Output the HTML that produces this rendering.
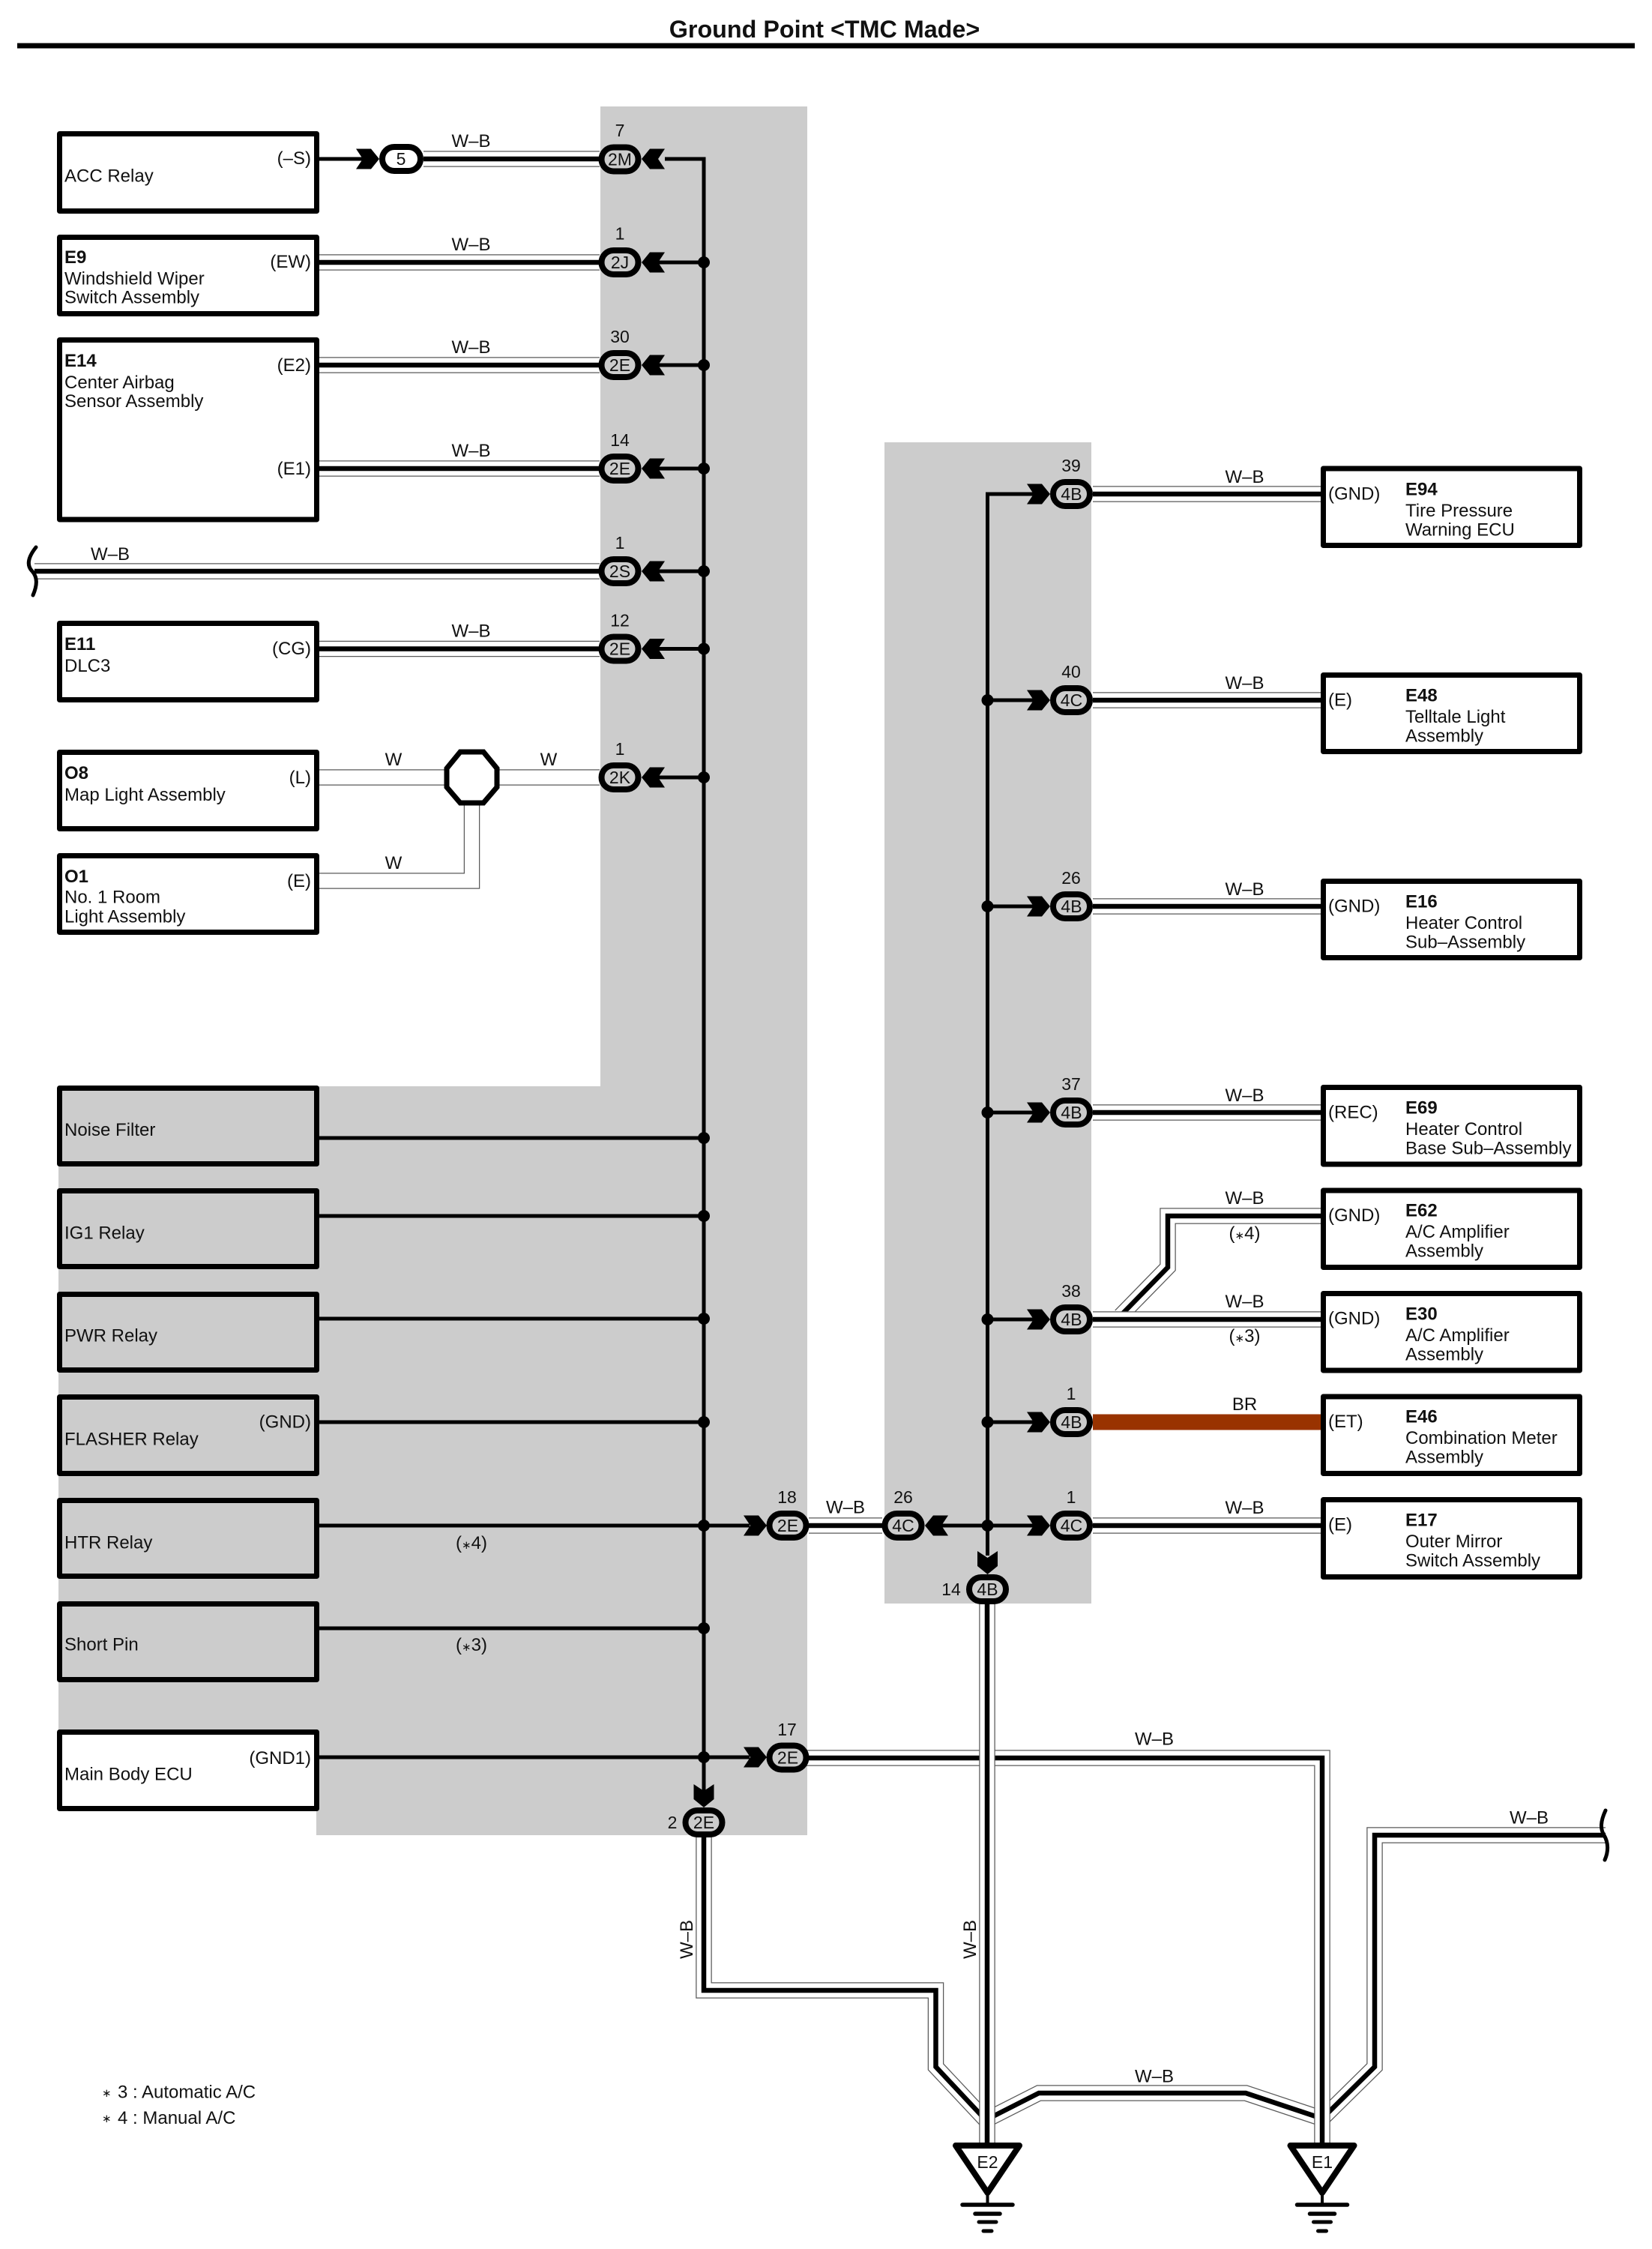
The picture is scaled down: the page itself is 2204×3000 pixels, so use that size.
<!DOCTYPE html>
<html><head><meta charset="utf-8"><style>
html,body{margin:0;padding:0;background:#fff}
svg{display:block}
text{font-family:"Liberation Sans",Arial,sans-serif;font-size:24px;fill:#111}
tspan.a{font-size:15px}
.b{font-weight:bold}.m{text-anchor:middle}.e{text-anchor:end}
.c{font-size:23px;text-anchor:middle}
.box{stroke:#000;stroke-width:7;stroke-linejoin:round}
.o,.w,.k,.l{fill:none;stroke-linejoin:miter}
.o{stroke:#5a5a5a;stroke-width:21.5}.w{stroke:#fff;stroke-width:19}.k{stroke:#000;stroke-width:6.5}
.l{stroke:#000;stroke-width:5}
.ov{stroke:#000;stroke-width:8;fill:#ccc}
</style></head><body>
<svg width="2204" height="3000" viewBox="0 0 2204 3000" xmlns="http://www.w3.org/2000/svg">
<defs>
<polygon id="ar" points="0,0 11,-13.5 31,-13.5 22,0 31,13.5 11,13.5" fill="#000"/>
<rect id="cn" x="-24.5" y="-16" width="49" height="32" rx="16" class="ov"/>
<path id="w2" d="M939 2440V2655H1248.5V2757L1317 2830"/>
<path id="w3" d="M1317 2827L1386 2792H1662L1764 2826"/>
<path id="w4" d="M2142 2448H1834V2757L1764 2826"/>
<path id="w5" d="M1070 2345H1764V2858"/>
<path id="w6" d="M1317 2130V2858"/>
<path id="w8" d="M1762 1622H1558V1690.5L1495 1755"/>
</defs>

<rect width="2204" height="3000" fill="#fff"/>
<text x="1100" y="50" class="m b" style="font-size:32.3px">Ground Point &lt;TMC Made&gt;</text>
<rect x="23" y="57.500" width="2158" height="7" fill="#000"/>

<!-- gray zones -->
<polygon points="801,142 1077,142 1077,2448 422,2448 422,2416 78,2416 78,1449 801,1449" fill="#ccc"/>
<rect x="1180" y="590" width="276" height="1549" fill="#ccc"/>

<!-- left wires -->
<path d="M565 212H800M426 350H800M426 487H800M426 625H800M46 762H800M426 865.500H800M1079 2035H1177" class="o"/>
<path d="M565 212H800M426 350H800M426 487H800M426 625H800M46 762H800M426 865.500H800M1079 2035H1177" class="w"/>
<path d="M565 212H800M426 350H800M426 487H800M426 625H800M46 762H800M426 865.500H800M1079 2035H1177" class="k"/>

<!-- W wires w/o core -->
<path d="M426 1037H800" class="o"/><path d="M426 1037H800" class="w"/>
<path d="M426 1175H629.500V1070" class="o"/><path d="M426 1175H629.500V1070" class="w"/>

<!-- octagon -->
<polygon points="614,1003 645,1003 663,1025 663,1050 645,1071 614,1071 596,1050 596,1025" fill="#fff" stroke="#000" stroke-width="7"/>

<!-- left bus -->
<path d="M887 212H939V2400" class="l"/>
<path d="M878 350H939M878 487H939M878 625H939M878 762H939M878 865.500H939M878 1037H939" class="l"/>
<path d="M426 1518H939M426 1622H939M426 1759H939M426 1897H939M426 2035H1000M426 2172H939M426 2344H1000" class="l"/>
<path d="M426 212H490" class="l"/>
<g fill="#000">
<circle cx="939" cy="350" r="8"/><circle cx="939" cy="487" r="8"/><circle cx="939" cy="625" r="8"/><circle cx="939" cy="762" r="8"/><circle cx="939" cy="865.500" r="8"/><circle cx="939" cy="1037" r="8"/>
<circle cx="939" cy="1518" r="8"/><circle cx="939" cy="1622" r="8"/><circle cx="939" cy="1759" r="8"/><circle cx="939" cy="1897" r="8"/><circle cx="939" cy="2035" r="8"/><circle cx="939" cy="2172" r="8"/><circle cx="939" cy="2344" r="8"/>
</g>

<!-- bottom wires -->
<use href="#w2" class="o"/><use href="#w2" class="w"/><use href="#w2" class="k"/>
<use href="#w3" class="o"/><use href="#w3" class="w"/><use href="#w3" class="k"/>
<use href="#w4" class="o"/><use href="#w4" class="w"/><use href="#w4" class="k"/>
<use href="#w5" class="o"/><use href="#w5" class="w"/><use href="#w5" class="k"/>
<use href="#w6" class="o"/><use href="#w6" class="w"/><use href="#w6" class="k"/>

<!-- squiggles -->
<path d="M48 730C36 745 36 755 43 762C50 770 50 780 44 794" fill="none" stroke="#000" stroke-width="5" stroke-linecap="round"/>
<path d="M2142 2415C2135 2430 2135 2440 2140 2448C2146 2458 2146 2470 2141 2481" fill="none" stroke="#000" stroke-width="5" stroke-linecap="round"/>

<!-- left boxes -->
<rect class="box" x="79.500" y="178.500" width="343" height="103" fill="#fff"/>
<rect class="box" x="79.500" y="316.500" width="343" height="102" fill="#fff"/>
<rect class="box" x="79.500" y="453.500" width="343" height="239.500" fill="#fff"/>
<rect class="box" x="79.500" y="831.500" width="343" height="102" fill="#fff"/>
<rect class="box" x="79.500" y="1003.500" width="343" height="102" fill="#fff"/>
<rect class="box" x="79.500" y="1141.500" width="343" height="102" fill="#fff"/>
<rect class="box" x="79.500" y="1451.500" width="343" height="101" fill="#ccc"/>
<rect class="box" x="79.500" y="1588.500" width="343" height="101" fill="#ccc"/>
<rect class="box" x="79.500" y="1726.500" width="343" height="101" fill="#ccc"/>
<rect class="box" x="79.500" y="1863.500" width="343" height="102" fill="#ccc"/>
<rect class="box" x="79.500" y="2001.500" width="343" height="101" fill="#ccc"/>
<rect class="box" x="79.500" y="2139.500" width="343" height="101" fill="#ccc"/>
<rect class="box" x="79.500" y="2310.500" width="343" height="102" fill="#fff"/>

<!-- right wires -->
<path d="M1458 659H1762M1458 934H1762M1458 1209H1762M1458 1484H1762" class="o"/>
<path d="M1458 659H1762M1458 934H1762M1458 1209H1762M1458 1484H1762" class="w"/>
<path d="M1458 659H1762M1458 934H1762M1458 1209H1762M1458 1484H1762" class="k"/>
<use href="#w8" class="o"/><use href="#w8" class="w"/><use href="#w8" class="k"/>
<path d="M1458 1760H1762M1458 2035H1762" class="o"/>
<path d="M1458 1760H1762M1458 2035H1762" class="w"/>
<path d="M1458 1760H1762M1458 2035H1762" class="k"/>
<rect x="1458" y="1886.500" width="304" height="21" fill="#993300"/>

<!-- right bus -->
<path d="M1380 659H1317.500V2075" class="l"/>
<path d="M1317.500 934H1380M1317.500 1209H1380M1317.500 1484H1380M1317.500 1760H1380M1317.500 1897H1380M1250 2035H1380" class="l"/>
<g fill="#000">
<circle cx="1317.500" cy="934" r="8"/><circle cx="1317.500" cy="1209" r="8"/><circle cx="1317.500" cy="1484" r="8"/><circle cx="1317.500" cy="1760" r="8"/><circle cx="1317.500" cy="1897" r="8"/><circle cx="1317.500" cy="2035" r="8"/>
</g>

<!-- right boxes -->
<rect class="box" x="1765.500" y="625" width="342" height="102.500" fill="#fff"/>
<rect class="box" x="1765.500" y="900.500" width="342" height="102" fill="#fff"/>
<rect class="box" x="1765.500" y="1175.500" width="342" height="102" fill="#fff"/>
<rect class="box" x="1765.500" y="1450.500" width="342" height="102.500" fill="#fff"/>
<rect class="box" x="1765.500" y="1588" width="342" height="102.500" fill="#fff"/>
<rect class="box" x="1765.500" y="1725.500" width="342" height="102.500" fill="#fff"/>
<rect class="box" x="1765.500" y="1863" width="342" height="102.500" fill="#fff"/>
<rect class="box" x="1765.500" y="2000.500" width="342" height="103" fill="#fff"/>

<!-- arrows pointing left into connectors -->
<use href="#ar" transform="translate(856 212)"/>
<use href="#ar" transform="translate(856 350)"/>
<use href="#ar" transform="translate(856 487)"/>
<use href="#ar" transform="translate(856 625)"/>
<use href="#ar" transform="translate(856 762)"/>
<use href="#ar" transform="translate(856 865.500)"/>
<use href="#ar" transform="translate(856 1037)"/>
<use href="#ar" transform="translate(1234 2035)"/>
<!-- arrows pointing right -->
<use href="#ar" transform="translate(506 212) rotate(180)"/>
<use href="#ar" transform="translate(1023 2035) rotate(180)"/>
<use href="#ar" transform="translate(1023 2344) rotate(180)"/>
<use href="#ar" transform="translate(1401 659) rotate(180)"/>
<use href="#ar" transform="translate(1401 934) rotate(180)"/>
<use href="#ar" transform="translate(1401 1209) rotate(180)"/>
<use href="#ar" transform="translate(1401 1484) rotate(180)"/>
<use href="#ar" transform="translate(1401 1760) rotate(180)"/>
<use href="#ar" transform="translate(1401 1897) rotate(180)"/>
<use href="#ar" transform="translate(1401 2035) rotate(180)"/>
<!-- arrows pointing down -->
<use href="#ar" transform="translate(939 2411) rotate(-90)"/>
<use href="#ar" transform="translate(1317.500 2100) rotate(-90)"/>

<!-- connectors -->
<rect x="510" y="196" width="51" height="32" rx="16" fill="#fff" stroke="#000" stroke-width="8"/>
<use href="#cn" transform="translate(827 212.500)"/>
<use href="#cn" transform="translate(827 350)"/>
<use href="#cn" transform="translate(827 487)"/>
<use href="#cn" transform="translate(827 625)"/>
<use href="#cn" transform="translate(827 762)"/>
<use href="#cn" transform="translate(827 865.500)"/>
<use href="#cn" transform="translate(827 1037)"/>
<use href="#cn" transform="translate(1051 2035)"/>
<use href="#cn" transform="translate(1051 2344.500)"/>
<use href="#cn" transform="translate(939 2431)"/>
<use href="#cn" transform="translate(1205 2035)"/>
<use href="#cn" transform="translate(1429.500 659)"/>
<use href="#cn" transform="translate(1429.500 934)"/>
<use href="#cn" transform="translate(1429.500 1209)"/>
<use href="#cn" transform="translate(1429.500 1484)"/>
<use href="#cn" transform="translate(1429.500 1760)"/>
<use href="#cn" transform="translate(1429.500 1897)"/>
<use href="#cn" transform="translate(1429.500 2035)"/>
<use href="#cn" transform="translate(1317.500 2120)"/>

<!-- connector text -->
<text x="535" y="220" class="c">5</text>
<text x="827" y="220.500" class="c">2M</text><text x="827" y="358" class="c">2J</text><text x="827" y="495" class="c">2E</text><text x="827" y="633" class="c">2E</text><text x="827" y="770" class="c">2S</text><text x="827" y="873.500" class="c">2E</text><text x="827" y="1045" class="c">2K</text>
<text x="1051" y="2043" class="c">2E</text><text x="1051" y="2352.500" class="c">2E</text><text x="939" y="2439" class="c">2E</text><text x="1205" y="2043" class="c">4C</text>
<text x="1429.500" y="667" class="c">4B</text><text x="1429.500" y="942" class="c">4C</text><text x="1429.500" y="1217" class="c">4B</text><text x="1429.500" y="1492" class="c">4B</text><text x="1429.500" y="1768" class="c">4B</text><text x="1429.500" y="1905" class="c">4B</text><text x="1429.500" y="2043" class="c">4C</text><text x="1317.500" y="2128" class="c">4B</text>

<!-- pin numbers -->
<text x="827" y="182" class="c">7</text><text x="827" y="319.500" class="c">1</text><text x="827" y="457" class="c">30</text><text x="827" y="595" class="c">14</text><text x="827" y="732" class="c">1</text><text x="827" y="835.500" class="c">12</text><text x="827" y="1007" class="c">1</text>
<text x="1050" y="2005" class="c">18</text><text x="1050" y="2315" class="c">17</text><text x="897" y="2439" class="c">2</text><text x="1205" y="2005" class="c">26</text>
<text x="1429" y="629" class="c">39</text><text x="1429" y="904" class="c">40</text><text x="1429" y="1179" class="c">26</text><text x="1429" y="1454" class="c">37</text><text x="1429" y="1730" class="c">38</text><text x="1429" y="1867" class="c">1</text><text x="1429" y="2005" class="c">1</text><text x="1269" y="2128" class="c">14</text>

<!-- wire labels -->
<text x="628.500" y="196" class="m">W–B</text><text x="628.500" y="334" class="m">W–B</text><text x="628.500" y="471" class="m">W–B</text><text x="628.500" y="609" class="m">W–B</text><text x="147" y="747" class="m">W–B</text><text x="628.500" y="849.500" class="m">W–B</text>
<text x="525" y="1021" class="m">W</text><text x="732" y="1021" class="m">W</text><text x="525" y="1159" class="m">W</text>
<text x="1128" y="2018.500" class="m">W–B</text>
<text x="1660.500" y="644" class="m">W–B</text><text x="1660.500" y="919" class="m">W–B</text><text x="1660.500" y="1194" class="m">W–B</text><text x="1660.500" y="1469" class="m">W–B</text><text x="1660.500" y="1606" class="m">W–B</text><text x="1660.500" y="1744" class="m">W–B</text><text x="1660.500" y="2019" class="m">W–B</text>
<text x="1660.500" y="1881" class="m">BR</text>
<text x="1660.500" y="1653" class="m">(<tspan class="a">∗</tspan>4)</text><text x="1660.500" y="1790" class="m">(<tspan class="a">∗</tspan>3)</text>
<text x="629" y="2066" class="m">(<tspan class="a">∗</tspan>4)</text><text x="629" y="2202" class="m">(<tspan class="a">∗</tspan>3)</text>
<text x="1540" y="2327.500" class="m">W–B</text><text x="1540" y="2777.500" class="m">W–B</text><text x="2040" y="2432.500" class="m">W–B</text>
<text transform="translate(924 2587) rotate(-90)" class="m">W–B</text>
<text transform="translate(1302 2587) rotate(-90)" class="m">W–B</text>

<!-- left box text -->
<text x="86" y="242.500">ACC Relay</text>
<text x="86" y="351" class="b">E9</text><text x="86" y="379.500">Windshield Wiper</text><text x="86" y="404.500">Switch Assembly</text>
<text x="86" y="489" class="b">E14</text><text x="86" y="518">Center Airbag</text><text x="86" y="543">Sensor Assembly</text>
<text x="86" y="867" class="b">E11</text><text x="86" y="896">DLC3</text>
<text x="86" y="1039" class="b">O8</text><text x="86" y="1068">Map Light Assembly</text>
<text x="86" y="1177" class="b">O1</text><text x="86" y="1204.500">No. 1 Room</text><text x="86" y="1230.500">Light Assembly</text>
<text x="86" y="1515">Noise Filter</text><text x="86" y="1652.500">IG1 Relay</text><text x="86" y="1789.500">PWR Relay</text><text x="86" y="1927.500">FLASHER Relay</text><text x="86" y="2065.500">HTR Relay</text><text x="86" y="2201.500">Short Pin</text><text x="86" y="2374.500">Main Body ECU</text>
<text x="415" y="219" class="e">(–S)</text><text x="415" y="357" class="e">(EW)</text><text x="415" y="495" class="e">(E2)</text><text x="415" y="633" class="e">(E1)</text><text x="415" y="873" class="e">(CG)</text><text x="415" y="1045" class="e">(L)</text><text x="415" y="1183" class="e">(E)</text><text x="415" y="1904.500" class="e">(GND)</text><text x="415" y="2353" class="e">(GND1)</text>

<!-- right box text -->
<text x="1772" y="666.500">(GND)</text><text x="1875" y="660.500" class="b">E94</text><text x="1875" y="689">Tire Pressure</text><text x="1875" y="714.500">Warning ECU</text>
<text x="1772" y="941.500">(E)</text><text x="1875" y="935.500" class="b">E48</text><text x="1875" y="964">Telltale Light</text><text x="1875" y="989.500">Assembly</text>
<text x="1772" y="1216.500">(GND)</text><text x="1875" y="1210.500" class="b">E16</text><text x="1875" y="1239">Heater Control</text><text x="1875" y="1264.500">Sub–Assembly</text>
<text x="1772" y="1491.500">(REC)</text><text x="1875" y="1485.500" class="b">E69</text><text x="1875" y="1514">Heater Control</text><text x="1875" y="1539.500">Base Sub–Assembly</text>
<text x="1772" y="1629">(GND)</text><text x="1875" y="1622.500" class="b">E62</text><text x="1875" y="1651">A/C Amplifier</text><text x="1875" y="1676.500">Assembly</text>
<text x="1772" y="1766.500">(GND)</text><text x="1875" y="1760.500" class="b">E30</text><text x="1875" y="1789">A/C Amplifier</text><text x="1875" y="1814.500">Assembly</text>
<text x="1772" y="1904">(ET)</text><text x="1875" y="1897.500" class="b">E46</text><text x="1875" y="1926">Combination Meter</text><text x="1875" y="1951.500">Assembly</text>
<text x="1772" y="2041.500">(E)</text><text x="1875" y="2035.500" class="b">E17</text><text x="1875" y="2064">Outer Mirror</text><text x="1875" y="2089.500">Switch Assembly</text>

<!-- ground symbols -->
<polygon points="1275,2862 1360,2862 1317.500,2925" fill="#fff" stroke="#000" stroke-width="8" stroke-linejoin="round"/>
<path d="M1317.500 2924V2941" stroke="#000" stroke-width="4" fill="none"/>
<g stroke="#000" stroke-linecap="round" fill="none">
<path d="M1284 2941H1351" stroke-width="5.500"/><path d="M1301 2953H1334" stroke-width="5.500"/><path d="M1306 2964H1329" stroke-width="5"/><path d="M1312 2976H1323" stroke-width="5"/>
</g>
<text x="1317.500" y="2892" class="c">E2</text>
<polygon points="1721.500,2862 1806.500,2862 1764,2925" fill="#fff" stroke="#000" stroke-width="8" stroke-linejoin="round"/>
<path d="M1764 2924V2941" stroke="#000" stroke-width="4" fill="none"/>
<g stroke="#000" stroke-linecap="round" fill="none">
<path d="M1730.500 2941H1797.500" stroke-width="5.500"/><path d="M1747.500 2953H1780.500" stroke-width="5.500"/><path d="M1752.500 2964H1775.500" stroke-width="5"/><path d="M1758.500 2976H1769.500" stroke-width="5"/>
</g>
<text x="1764" y="2892" class="c">E1</text>

<!-- notes -->
<text x="136" y="2797" style="font-size:15px">∗</text><text x="157" y="2798.500">3 : Automatic A/C</text>
<text x="136" y="2831" style="font-size:15px">∗</text><text x="157" y="2833">4 : Manual A/C</text>
</svg>
</body></html>
